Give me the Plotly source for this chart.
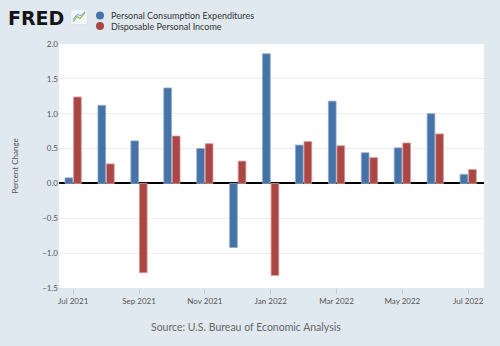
import plotly.graph_objects as go

months = ["Jul 2021", "Aug 2021", "Sep 2021", "Oct 2021", "Nov 2021", "Dec 2021",
          "Jan 2022", "Feb 2022", "Mar 2022", "Apr 2022", "May 2022", "Jun 2022", "Jul 2022"]
pce = [0.08, 1.12, 0.61, 1.37, 0.50, -0.92, 1.86, 0.55, 1.18, 0.44, 0.51, 1.00, 0.13]
dpi = [1.24, 0.28, -1.28, 0.68, 0.57, 0.32, -1.32, 0.60, 0.54, 0.37, 0.58, 0.71, 0.20]
names = ["Personal Consumption Expenditures", "Disposable Personal Income"]
colors = ["#4572a7", "#aa4643"]
edge = ["#8fa9cc", "#d49a98"]

x = list(range(len(months)))
tick_idx = x[::2]
tick_txt = [months[i] for i in tick_idx]

FONT = "Lato"
fig = go.Figure()
for vals, nm, c, e in zip([pce, dpi], names, colors, edge):
    fig.add_trace(go.Bar(x=x, y=vals, name=nm, marker=dict(color=c, line=dict(color=e, width=0.8)),
                         showlegend=False))

PW, PH = 425, 244.5
L, T = 59, 43.5
def px(xp):
    return (xp - L) / PW
def py(yp):
    return (288 - yp) / PH

annotations = [
    dict(text="<b>FRED</b>", x=px(6), y=py(17), xref="paper", yref="paper",
         xanchor="left", yanchor="middle", showarrow=False,
         font=dict(family="DejaVu Sans", size=19, color="#151515")),
    dict(text="Source: U.S. Bureau of Economic Analysis", x=px(245.7), y=py(326.7),
         xref="paper", yref="paper", xanchor="center", yanchor="middle", showarrow=False,
         font=dict(size=10.5, color="#666666")),
]
shapes = []
for i, (nm, c) in enumerate(zip(names, colors)):
    yc = 15 + 10.5 * i
    annotations.append(dict(text=nm, x=px(109), y=py(yc), xref="paper", yref="paper",
                            xanchor="left", yanchor="middle", showarrow=False,
                            font=dict(size=9, color="#333333")))
    shapes.append(dict(type="circle", xref="paper", yref="paper", x0=px(96), x1=px(104),
                       y0=py(yc + 4), y1=py(yc - 4), fillcolor=c, line=dict(width=0)))

# small logo icon (pixels 71..87 x, 9..24 y)
x0, x1 = px(71), px(87)
y_bot, y_top = py(24), py(9)
dx, dy = 1 / PW, 1 / PH
shapes.append(dict(type="rect", xref="paper", yref="paper", x0=x0, x1=x1, y0=y_bot, y1=y_top,
                   fillcolor="#f3f5f7", line=dict(color="#d5dbe2", width=0.5)))
shapes.append(dict(type="path", xref="paper", yref="paper",
                   path=f"M {x0+2*dx},{y_bot+3*dy} L {x0+6*dx},{y_bot+8*dy} L {x0+9*dx},{y_bot+6*dy} L {x1-2*dx},{y_top-3*dy}",
                   line=dict(color="#7fbf5a", width=1.2)))
shapes.append(dict(type="path", xref="paper", yref="paper",
                   path=f"M {x0+2*dx},{y_bot+5*dy} L {x0+6*dx},{y_bot+10*dy} L {x0+10*dx},{y_bot+9*dy} L {x1-2*dx},{y_top-2*dy}",
                   line=dict(color="#6f9fd0", width=1)))

fig.update_layout(
    width=500, height=346,
    margin=dict(l=59, r=16, t=43.5, b=58, autoexpand=False),
    paper_bgcolor="#e1e9f0", plot_bgcolor="#ffffff",
    barmode="group", bargap=0.48, bargroupgap=0.1,
    font=dict(family=FONT, size=8, color="#555555"),
    showlegend=False,
    xaxis=dict(range=[-0.43, 12.48], tickmode="array", tickvals=tick_idx, ticktext=tick_txt,
               tickangle=0, automargin=False,
               showgrid=False, ticks="outside", ticklen=5, tickcolor="#c0cad6",
               zeroline=False, showline=False, tickfont=dict(size=8, color="#555555")),
    yaxis=dict(range=[-1.5, 2.0], dtick=0.5, tickformat=".1f", showgrid=True, automargin=False,
               gridcolor="#ececec", gridwidth=1, zeroline=True, zerolinecolor="#000000",
               zerolinewidth=2, ticks="", tickfont=dict(size=8, color="#555555"),
               title=dict(text="Percent Change", font=dict(size=8, color="#555555"), standoff=22)),
    annotations=annotations,
    shapes=shapes,
)
fig.write_html("out.html")
